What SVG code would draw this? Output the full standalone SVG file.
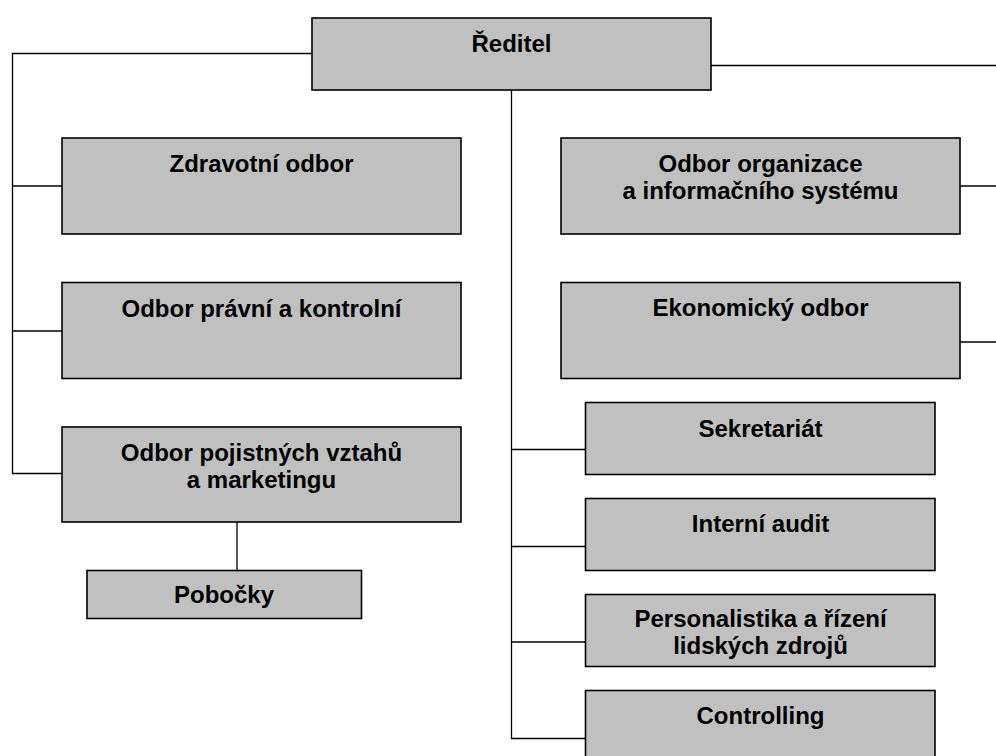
<svg xmlns="http://www.w3.org/2000/svg" width="996" height="756" viewBox="0 0 996 756">
<style>
.box{fill:#c0c0c0;stroke:#000;stroke-width:1.6}
.ln{fill:none;stroke:#000;stroke-width:1.3}
text{font-family:"Liberation Sans",Arial,sans-serif;font-weight:bold;font-size:24px;text-anchor:middle;fill:#000}
</style>
<rect width="996" height="756" fill="#fff"/>
<g id="connectors">
<polyline class="ln" points="312,53.5 12.5,53.5 12.5,473.5 62,473.5"/>
<line class="ln" x1="12.5" y1="186" x2="62" y2="186"/>
<line class="ln" x1="12.5" y1="331" x2="62" y2="331"/>
<line class="ln" x1="711" y1="65.5" x2="996" y2="65.5"/>
<line class="ln" x1="960" y1="186" x2="996" y2="186"/>
<line class="ln" x1="960" y1="342" x2="996" y2="342"/>
<polyline class="ln" points="511.5,90 511.5,738.5 585.5,738.5"/>
<line class="ln" x1="511.5" y1="449.5" x2="585.5" y2="449.5"/>
<line class="ln" x1="511.5" y1="546.5" x2="585.5" y2="546.5"/>
<line class="ln" x1="511.5" y1="642" x2="585.5" y2="642"/>
<line class="ln" x1="237" y1="522" x2="237" y2="570"/>
</g>
<g id="reditel"><rect class="box" x="312" y="18" width="399" height="72"/><text x="511.5" y="52">Ředitel</text></g>
<g id="zdravotni"><rect class="box" x="62" y="138" width="399" height="96"/><text x="261.5" y="172">Zdravotní odbor</text></g>
<g id="pravni"><rect class="box" x="62" y="282.5" width="399" height="96"/><text x="261.5" y="317">Odbor právní a kontrolní</text></g>
<g id="pojistne"><rect class="box" x="62" y="427" width="399" height="95"/><text x="261.5" y="461">Odbor pojistných vztahů</text><text x="261.5" y="488">a marketingu</text></g>
<g id="pobocky"><rect class="box" x="87" y="570.5" width="274.5" height="48"/><text x="224" y="603">Pobočky</text></g>
<g id="organizace"><rect class="box" x="561" y="138" width="399" height="96"/><text x="760.5" y="171.5">Odbor organizace</text><text x="760.5" y="199">a informačního systému</text></g>
<g id="ekonomicky"><rect class="box" x="561" y="282.5" width="399" height="96"/><text x="760.5" y="316">Ekonomický odbor</text></g>
<g id="sekretariat"><rect class="box" x="585.5" y="402.5" width="349.5" height="72"/><text x="760.5" y="437">Sekretariát</text></g>
<g id="audit"><rect class="box" x="585.5" y="498.5" width="349.5" height="72"/><text x="760.5" y="532">Interní audit</text></g>
<g id="personalistika"><rect class="box" x="585.5" y="594.5" width="349.5" height="72"/><text x="760.5" y="627">Personalistika a řízení</text><text x="760.5" y="654">lidských zdrojů</text></g>
<g id="controlling"><rect class="box" x="585.5" y="690.5" width="349.5" height="80"/><text x="760.5" y="724">Controlling</text></g>
</svg>
